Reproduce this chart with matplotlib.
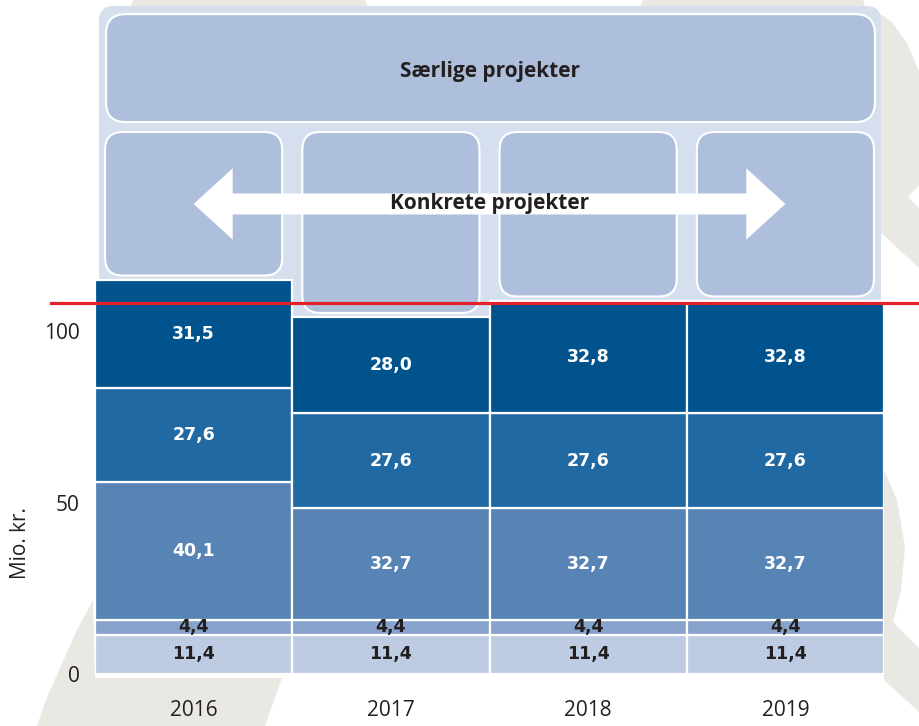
import matplotlib
matplotlib.use('Agg')
import matplotlib.pyplot as plt
from matplotlib.patches import FancyBboxPatch, Polygon

# data (Mio. kr.)
years = ['2016', '2017', '2018', '2019']
seg_1 = [11.4, 11.4, 11.4, 11.4]
seg_2 = [4.4, 4.4, 4.4, 4.4]
seg_3 = [40.1, 32.7, 32.7, 32.7]
seg_4 = [27.6, 27.6, 27.6, 27.6]
seg_5 = [31.5, 28.0, 32.8, 32.8]
red_level = 108.3
y_ticks = [0, 50, 100]
top_label = 'Særlige projekter'
arrow_label = 'Konkrete projekter'
y_label = 'Mio. kr.'

segments = [seg_1, seg_2, seg_3, seg_4, seg_5]
colors = ['#BDCBE3', '#87A3CB', '#5784B5', '#2169A2', '#00538C']
text_colors = ['#231F20', '#231F20', 'white', 'white', 'white']

plt.rcParams['font.family'] = ['Open Sans', 'DejaVu Sans']

W, H = 919, 726
fig = plt.figure(figsize=(W / 100, H / 100), dpi=100)

# grey watermark shapes in the background (pixel coords)
bg = fig.add_axes([0, 0, 1, 1], zorder=0)
bg.set_xlim(0, W)
bg.set_ylim(H, 0)
bg.axis('off')
shapes = [
    [(133, 0), (365, 0), (372, 20), (126, 20)],
    [(643, 0), (863, 0), (870, 20), (636, 20)],
    [(868, 6), (892, 22), (908, 45), (919, 72), (919, 185), (908, 197),
     (919, 208), (919, 268), (878, 230), (868, 20)],
    [(884, 470), (897, 500), (905, 547), (901, 590), (893, 622), (919, 648),
     (919, 712), (884, 680)],
    [(93, 600), (95, 678), (282, 678), (265, 726), (37, 726), (46, 700),
     (60, 668), (76, 632)],
]
for pts in shapes:
    bg.add_patch(Polygon(pts, closed=True, fc='#E9E8E3', ec='none'))

# main axes: 197.25 px per bar, 3.426 px per Mio. kr.
px_x, px_y = 197.25, 3.426
asp = px_x / px_y
ax = fig.add_axes([95 / W, (H - 674) / H, 789 / W, 674 / H], zorder=1)
ax.patch.set_alpha(0)
ax.set_xlim(-0.5, 3.5)
ax.set_ylim(0, 674 / px_y)

# light panel with the project boxes
ax.add_patch(FancyBboxPatch((-0.48, 90), 3.965, 105, boxstyle='round,pad=0,rounding_size=0.076',
                            mutation_aspect=asp, fc='#D5DFEE', ec='none', zorder=1))
ax.add_patch(FancyBboxPatch((-0.444, 161.1), 3.898, 31.5, boxstyle='round,pad=0,rounding_size=0.1',
                            mutation_aspect=asp, fc='#AEBFDC', ec='white', lw=1.5, zorder=2))
totals = [sum(s[i] for s in segments) for i in range(len(years))]
for i, tot in enumerate(totals):
    b = tot + 1.3
    ax.add_patch(FancyBboxPatch((i - 0.449, b), 0.898, 158.2 - b,
                                boxstyle='round,pad=0,rounding_size=0.09',
                                mutation_aspect=asp, fc='#AEBFDC', ec='white', lw=1.5, zorder=2))

# double arrow across the years
yc, sh, hh, hl = 137.2, 3.07, 10.4, 0.198
x0, x1 = 0, len(years) - 1
arrow = [(x0, yc), (x0 + hl, yc + hh), (x0 + hl, yc + sh), (x1 - hl, yc + sh), (x1 - hl, yc + hh),
         (x1, yc), (x1 - hl, yc - hh), (x1 - hl, yc - sh), (x0 + hl, yc - sh), (x0 + hl, yc - hh)]
ax.add_patch(Polygon(arrow, closed=True, fc='white', ec='none', zorder=4))

ax.text(1.5, 175.8, top_label, ha='center', va='center', fontsize=15, fontweight='bold',
        color='#231F20', zorder=5)
ax.text(1.5, yc, arrow_label, ha='center', va='center', fontsize=15, fontweight='bold',
        color='#231F20', zorder=5)

# stacked bars
x = list(range(len(years)))
bottom = [0] * len(years)
for seg, col, tcol in zip(segments, colors, text_colors):
    ax.bar(x, seg, width=1.0, bottom=bottom, color=col, edgecolor='white', linewidth=1.6, zorder=3)
    for i, v in enumerate(seg):
        ax.text(i, bottom[i] + v / 2, f'{v:.1f}'.replace('.', ','), ha='center', va='center',
                fontsize=12.5, fontweight='bold', family='DejaVu Sans', color=tcol, zorder=5)
    bottom = [b + v for b, v in zip(bottom, seg)]

# red line
ax.plot([-0.723, 3.677], [red_level, red_level], color='#E4202A', lw=2.3, clip_on=False, zorder=6)

ax.set_xticks(x)
ax.set_xticklabels(years)
ax.set_yticks(y_ticks)
ax.tick_params(axis='both', length=0, labelsize=15, colors='#231F20')
ax.tick_params(axis='x', labelsize=15, pad=19)
ax.tick_params(axis='y', pad=11)
for s in ax.spines.values():
    s.set_visible(False)

fig.text(20 / W, 1 - 543 / H, y_label, rotation=90, ha='center', va='center', fontsize=15,
         color='#231F20')

fig.savefig('out.png', dpi=100)
